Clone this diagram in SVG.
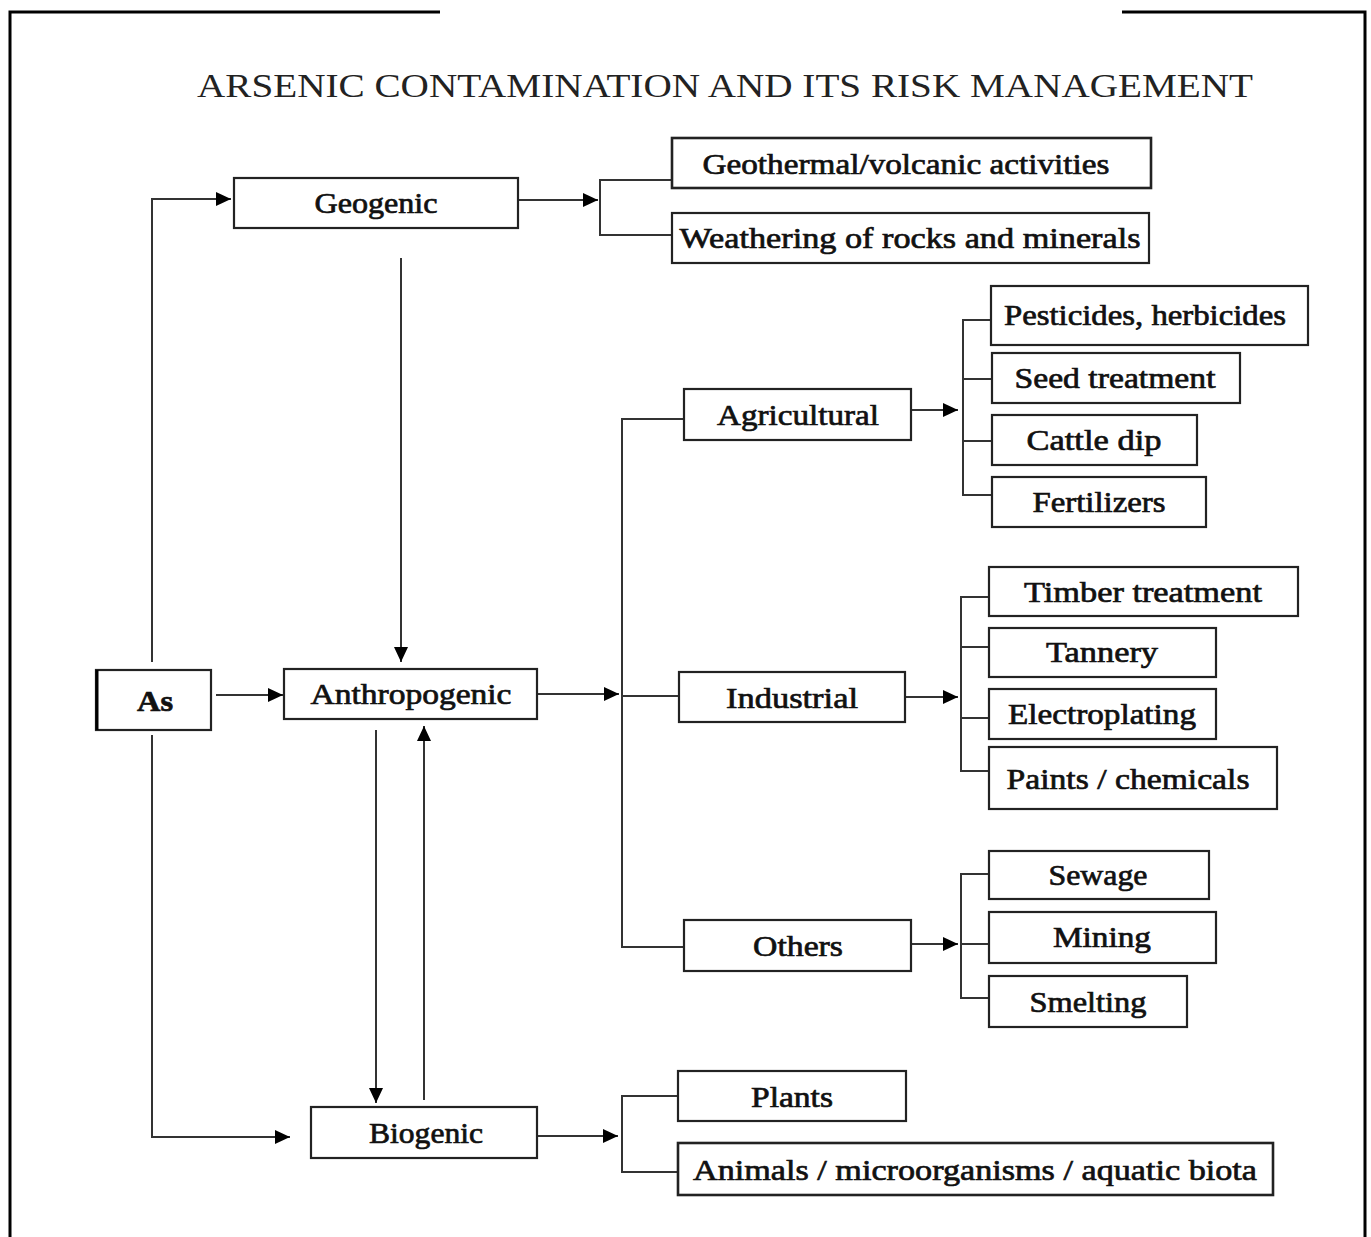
<svg xmlns="http://www.w3.org/2000/svg" width="1371" height="1237" viewBox="0 0 1371 1237">
<style>
.bx{fill:#fff;stroke:#222;stroke-width:2.2}
.t{font-family:"Liberation Serif","Times New Roman",serif;font-size:30px;fill:#111;text-anchor:middle;stroke:#111;stroke-width:0.7}
.ln{fill:none;stroke:#333;stroke-width:2}
.fr{fill:none;stroke:#000;stroke-width:3}
</style>
<defs>
<marker id="ah" markerUnits="userSpaceOnUse" markerWidth="16" markerHeight="16" viewBox="0 0 16 16" refX="15" refY="8" orient="auto">
<path d="M0,1 L15,8 L0,15 Z" fill="#000"/>
</marker>
</defs>
<rect width="1371" height="1237" fill="#fff"/>
<g id="frame">
<path class="fr" d="M440,12 H10 V1237"/>
<path class="fr" d="M1122,12 H1365 V1237"/>
</g>
<text id="title" x="725" y="97" font-family="Liberation Serif,'Times New Roman',serif" font-size="33" fill="#222" text-anchor="middle" textLength="1056" lengthAdjust="spacingAndGlyphs">ARSENIC CONTAMINATION AND ITS RISK MANAGEMENT</text>

<g id="connectors">
<path class="ln" d="M518,200 H598" marker-end="url(#ah)"/>
<path class="ln" d="M672,180 H600 V235 H672"/>
<path class="ln" d="M152,662 V199 H231" marker-end="url(#ah)"/>
<path class="ln" d="M152,735 V1137 H290" marker-end="url(#ah)"/>
<path class="ln" d="M216,695 H283" marker-end="url(#ah)"/>
<path class="ln" d="M401,258 V662" marker-end="url(#ah)"/>
<path class="ln" d="M376,730 V1103" marker-end="url(#ah)"/>
<path class="ln" d="M424,1100 V726" marker-end="url(#ah)"/>
<path class="ln" d="M537,694 H619" marker-end="url(#ah)"/>
<path class="ln" d="M684,419 H622 V947 H684"/>
<path class="ln" d="M622,696 H679"/>
<path class="ln" d="M911,410 H958" marker-end="url(#ah)"/>
<path class="ln" d="M991,320 H963 V495 H992 M963,379 H992 M963,441 H992"/>
<path class="ln" d="M905,697 H958" marker-end="url(#ah)"/>
<path class="ln" d="M989,597 H961 V771 H989 M961,647 H989 M961,718 H989"/>
<path class="ln" d="M911,944 H958" marker-end="url(#ah)"/>
<path class="ln" d="M989,874 H961 V998 H989 M961,944 H989"/>
<path class="ln" d="M537,1136 H618" marker-end="url(#ah)"/>
<path class="ln" d="M678,1096 H622 V1172 H678"/>
</g>

<g id="geogenic"><rect class="bx" x="234" y="178" width="284" height="50"/><text class="t" x="376" y="213" textLength="123" lengthAdjust="spacingAndGlyphs">Geogenic</text></g>
<g id="geothermal"><rect class="bx" x="672" y="138" width="479" height="50" style="stroke-width:2.6"/><text class="t" x="906" y="174" textLength="407" lengthAdjust="spacingAndGlyphs">Geothermal/volcanic activities</text></g>
<g id="weathering"><rect class="bx" x="672" y="213" width="477" height="50"/><text class="t" x="910" y="248" textLength="461" lengthAdjust="spacingAndGlyphs">Weathering of rocks and minerals</text></g>

<g id="as"><rect class="bx" x="96" y="670" width="115" height="60"/><path d="M97,670 V730" stroke="#000" stroke-width="3"/><text class="t" x="155" y="711" font-weight="bold" textLength="36" lengthAdjust="spacingAndGlyphs">As</text></g>
<g id="anthropogenic"><rect class="bx" x="284" y="669" width="253" height="50"/><text class="t" x="411" y="704" textLength="201" lengthAdjust="spacingAndGlyphs">Anthropogenic</text></g>
<g id="biogenic"><rect class="bx" x="311" y="1107" width="226" height="51"/><text class="t" x="426" y="1143" textLength="114" lengthAdjust="spacingAndGlyphs">Biogenic</text></g>

<g id="agricultural"><rect class="bx" x="684" y="389" width="227" height="51"/><text class="t" x="798" y="425" textLength="162" lengthAdjust="spacingAndGlyphs">Agricultural</text></g>
<g id="pesticides"><rect class="bx" x="991" y="286" width="317" height="59"/><text class="t" x="1145" y="325" textLength="282" lengthAdjust="spacingAndGlyphs">Pesticides, herbicides</text></g>
<g id="seed"><rect class="bx" x="992" y="353" width="248" height="50"/><text class="t" x="1115" y="388" textLength="201" lengthAdjust="spacingAndGlyphs">Seed treatment</text></g>
<g id="cattle"><rect class="bx" x="992" y="415" width="205" height="50"/><text class="t" x="1094" y="450" textLength="135" lengthAdjust="spacingAndGlyphs">Cattle dip</text></g>
<g id="fertilizers"><rect class="bx" x="992" y="477" width="214" height="50"/><text class="t" x="1099" y="512" textLength="133" lengthAdjust="spacingAndGlyphs">Fertilizers</text></g>

<g id="industrial"><rect class="bx" x="679" y="672" width="226" height="50"/><text class="t" x="792" y="708" textLength="132" lengthAdjust="spacingAndGlyphs">Industrial</text></g>
<g id="timber"><rect class="bx" x="989" y="567" width="309" height="49"/><text class="t" x="1143" y="602" textLength="238" lengthAdjust="spacingAndGlyphs">Timber treatment</text></g>
<g id="tannery"><rect class="bx" x="989" y="628" width="227" height="49"/><text class="t" x="1102" y="662" textLength="112" lengthAdjust="spacingAndGlyphs">Tannery</text></g>
<g id="electroplating"><rect class="bx" x="989" y="689" width="227" height="50"/><text class="t" x="1102" y="724" textLength="188" lengthAdjust="spacingAndGlyphs">Electroplating</text></g>
<g id="paints"><rect class="bx" x="989" y="747" width="288" height="62"/><text class="t" x="1128" y="789" textLength="243" lengthAdjust="spacingAndGlyphs">Paints / chemicals</text></g>

<g id="others"><rect class="bx" x="684" y="920" width="227" height="51"/><text class="t" x="798" y="956" textLength="90" lengthAdjust="spacingAndGlyphs">Others</text></g>
<g id="sewage"><rect class="bx" x="989" y="851" width="220" height="48"/><text class="t" x="1098" y="885" textLength="99" lengthAdjust="spacingAndGlyphs">Sewage</text></g>
<g id="mining"><rect class="bx" x="989" y="912" width="227" height="51"/><text class="t" x="1102" y="947" textLength="98" lengthAdjust="spacingAndGlyphs">Mining</text></g>
<g id="smelting"><rect class="bx" x="989" y="976" width="198" height="51"/><text class="t" x="1088" y="1012" textLength="117" lengthAdjust="spacingAndGlyphs">Smelting</text></g>

<g id="plants"><rect class="bx" x="678" y="1071" width="228" height="50"/><text class="t" x="792" y="1107" textLength="82" lengthAdjust="spacingAndGlyphs">Plants</text></g>
<g id="animals"><rect class="bx" x="678" y="1143" width="595" height="52" style="stroke-width:2.6"/><text class="t" x="975" y="1180" textLength="564" lengthAdjust="spacingAndGlyphs">Animals / microorganisms / aquatic biota</text></g>
</svg>
